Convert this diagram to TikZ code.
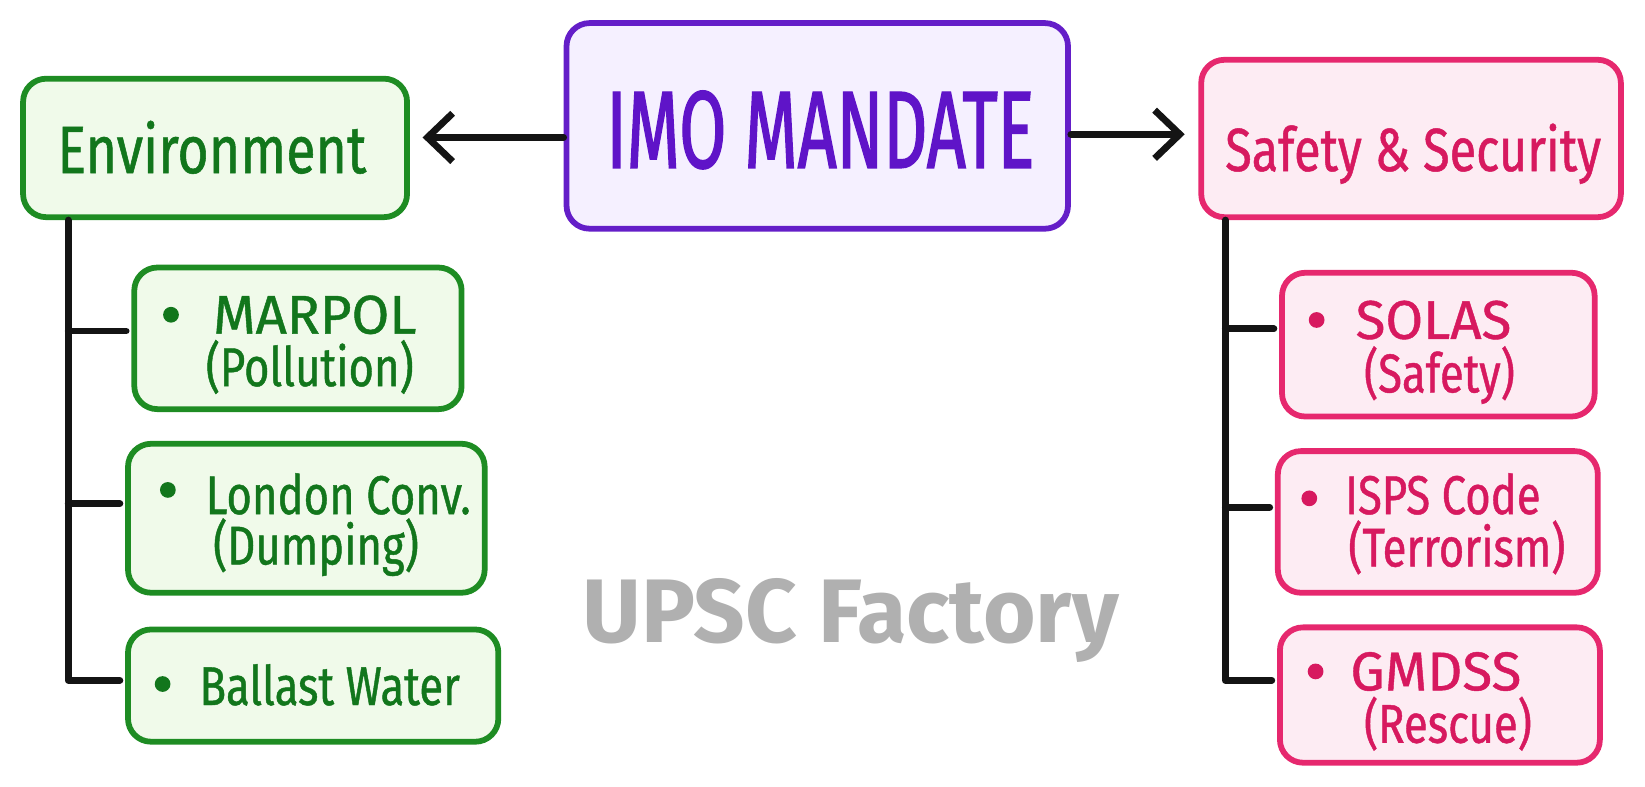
\documentclass[tikz,border=0pt]{standalone}
\usepackage{fontspec}
\setmainfont{Fira Sans}
\newfontfamily\handn{Fira Sans}[FakeStretch=0.8,FakeBold=0.8]
\newfontfamily\handc{Fira Sans}[FakeBold=0.8]
\newfontfamily\handi{Fira Sans}[FakeStretch=0.62,FakeBold=1.2]
\usetikzlibrary{arrows.meta}
\definecolor{gS}{RGB}{30,140,35}
\definecolor{gF}{RGB}{240,250,234}
\definecolor{gT}{RGB}{18,118,28}
\definecolor{pS}{RGB}{100,30,200}
\definecolor{pF}{RGB}{245,240,255}
\definecolor{pT}{RGB}{95,20,200}
\definecolor{rS}{RGB}{230,40,110}
\definecolor{rF}{RGB}{253,236,243}
\definecolor{rT}{RGB}{215,25,95}
\definecolor{wm}{RGB}{176,176,176}
\definecolor{ink}{RGB}{20,20,20}
\begin{document}
\begin{tikzpicture}[x=1pt,y=-1pt,
  box/.style={draw, line width=5.5pt, rounded corners=22pt, inner sep=0pt},
  gbox/.style={box, draw=gS, fill=gF},
  pbox/.style={box, draw=pS, fill=pF},
  rbox/.style={box, draw=rS, fill=rF},
  txt/.style={inner sep=0pt},
  big/.style={txt, font=\handn\fontsize{64}{64}\selectfont},
  subn/.style={txt, anchor=base west, font=\handn\fontsize{52}{52}\selectfont},
  subc/.style={txt, anchor=base west, font=\handc\fontsize{52}{52}\selectfont},
  dot/.style={radius=7.5pt},
  conn/.style={draw=ink, line width=6.5pt, line cap=round, line join=round},
  arr/.style={conn, -{Straight Barb[length=24pt,width=46pt]}}
]
\useasboundingbox (0,0) rectangle (1568,750);

% main boxes
\node[pbox, minimum width=478pt, minimum height=196pt] (imo) at (779,120) {};
\node[gbox, minimum width=366pt, minimum height=132pt] (env) at (205,141) {};
\node[rbox, minimum width=400pt, minimum height=150pt] (saf) at (1345,132) {};

% sub boxes
\node[gbox, minimum width=312pt, minimum height=135pt] (mar) at (284,322.5) {};
\node[gbox, minimum width=340pt, minimum height=142pt] (lon) at (292,494) {};
\node[gbox, minimum width=353pt, minimum height=107pt] (bal) at (298.5,653.5) {};
\node[rbox, minimum width=298pt, minimum height=137pt] (sol) at (1371,328.5) {};
\node[rbox, minimum width=305pt, minimum height=135pt] (isp) at (1370.5,497.5) {};
\node[rbox, minimum width=305pt, minimum height=129pt] (gmd) at (1372.5,662.5) {};

% titles
\node[txt, anchor=base, text=pT, font=\handi\fontsize{105}{105}\selectfont] (imot) at (782,160) {IMO MANDATE};
\node[big, anchor=base, text=gT] (envt) at (202,165) {Environment};
\node[big, anchor=base, text=rT, font=\handn\fontsize{58}{58}\selectfont] (saft) at (1347,163) {Safety \& Security};

% sub texts
\fill[gT] (163,300) circle[dot];
\node[subc, text=gT] (mar1) at (203,318) {MARPOL};
\node[subn, text=gT] (mar2) at (196,368) {(Pollution)};
\fill[gT] (160,467) circle[dot];
\node[subn, text=gT] (lon1) at (196,490) {London Conv.};
\node[subn, text=gT] (lon2) at (203,538) {(Dumping)};
\fill[gT] (155,652) circle[dot];
\node[subn, text=gT] (bal1) at (190,672) {Ballast Water};

\fill[rT] (1255,305) circle[dot];
\node[subc, text=rT] (sol1) at (1292,323) {SOLAS};
\node[subn, text=rT] (sol2) at (1300,374) {(Safety)};
\fill[rT] (1248,475) circle[dot];
\node[subn, text=rT] (isp1) at (1282,490) {ISPS Code};
\node[subn, text=rT] (isp2) at (1285,540) {(Terrorism)};
\fill[rT] (1254,640) circle[dot];
\node[subc, text=rT] (gmd1) at (1287,658) {GMDSS};
\node[subn, text=rT] (gmd2) at (1300,708) {(Rescue)};

% watermark
\node[txt, anchor=base west, text=wm, font=\bfseries\fontsize{86}{86}\selectfont] (wmk) at (555,612) {UPSC Factory};

% arrows
\coordinate (la) at (0,131);
\coordinate (ra) at (0,128);
\draw[arr, shorten >=12pt] (imo.west |- la) -- (env.east |- la);
\draw[arr, shorten >=13pt] (imo.east |- ra) -- (saf.west |- ra);

% trunks
\coordinate (tl) at (65,0);
\coordinate (tr) at (1168,0);
\draw[conn] (env.south -| tl) -- ([yshift=5pt]tl |- bal.west) -- ([xshift=-5pt,yshift=5pt]bal.west);
\draw[conn] ([yshift=7pt]tl |- mar.west) -- ([xshift=-5pt,yshift=7pt]mar.west);
\draw[conn] ([yshift=14pt]tl |- lon.west) -- ([xshift=-5pt,yshift=14pt]lon.west);
\draw[conn] (saf.south -| tr) -- ([yshift=14pt]tr |- gmd.west) -- ([xshift=-5pt,yshift=14pt]gmd.west);
\draw[conn] ([yshift=15pt]tr |- sol.west) -- ([xshift=-5pt,yshift=15pt]sol.west);
\draw[conn] ([yshift=14pt]tr |- isp.west) -- ([xshift=-5pt,yshift=14pt]isp.west);
\end{tikzpicture}
\end{document}
